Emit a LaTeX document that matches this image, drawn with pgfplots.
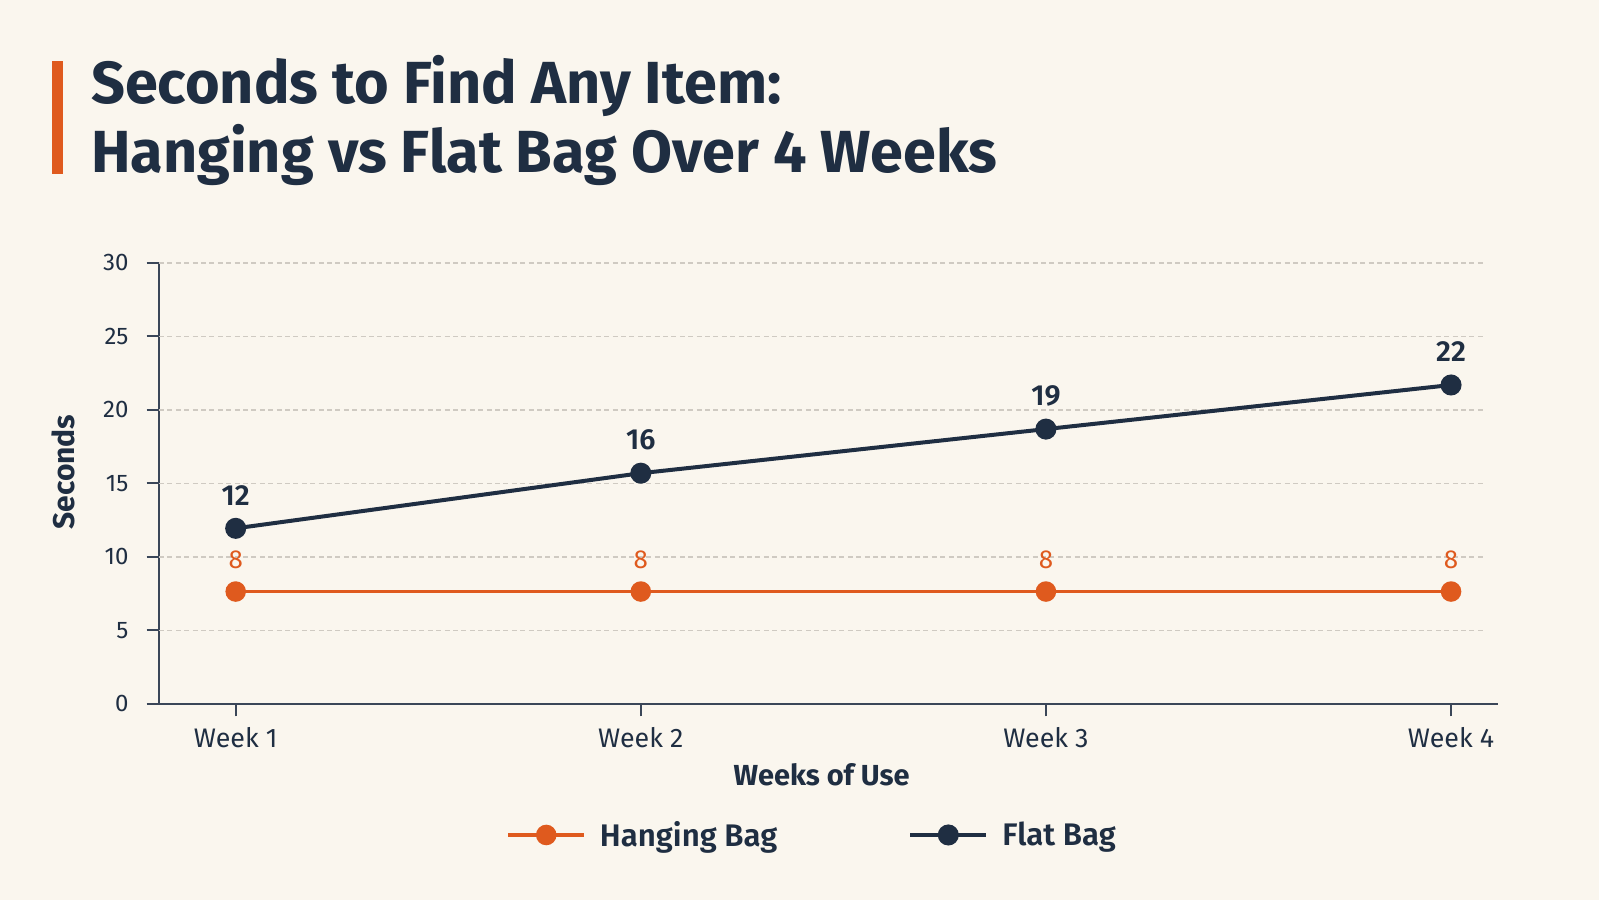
\documentclass[border=0pt]{standalone}
\usepackage{fontspec}
\setmainfont{Fira Sans}
\newfontface\fsemi{Fira Sans SemiBold}
\usepackage{pgfplots}
\pgfplotsset{compat=1.18}
\definecolor{bg}{HTML}{FAF6EE}
\definecolor{navy}{HTML}{1F2E42}
\definecolor{accent}{HTML}{DF5A1E}
\definecolor{gridc}{HTML}{CFCAC2}
\definecolor{spine}{HTML}{3A4658}
\begin{document}
\begin{tikzpicture}[x=0.5bp,y=0.5bp]
\fill[bg] (0,0) rectangle (1599,900);
\fill[accent] (51.7,726) rectangle (62.7,839.3);
\node[anchor=base west, inner sep=0, text=navy, font=\bfseries\fontsize{29.7bp}{29.7bp}\selectfont] at (90.7,796) {Seconds to Find Any Item:};
\node[anchor=base west, inner sep=0, text=navy, font=\bfseries\fontsize{29.7bp}{29.7bp}\selectfont] at (90.7,727) {Hanging vs Flat Bag Over 4 Weeks};
\begin{axis}[
  at={(79.5bp,98bp)}, anchor=south west,
  scale only axis, width=669.5bp, height=220.5bp,
  xmin=0.8107, xmax=4.116, ymin=0, ymax=30,
  axis lines=left, axis line style={spine, line width=1bp, -},
  xtick={1,2,3,4}, xticklabels={Week 1,Week 2,Week 3,Week 4},
  ytick={0,5,10,15,20,25,30},
  tick align=outside, major tick length=6.25bp,
  tick style={spine, line width=1bp},
  /pgf/number format/assume math mode=true,
  yticklabel style={anchor=east, inner sep=0pt, xshift=-8.85bp, text=navy, font=\fontsize{12bp}{12bp}\selectfont},
  xticklabel style={anchor=base, inner sep=0pt, yshift=-15.35bp, text=navy, font=\fontsize{13.4bp}{13.4bp}\selectfont},
  xlabel={Weeks of Use},
  xlabel style={at={(axis description cs:0.4949,-0.1837)}, anchor=base, inner sep=0pt, text=navy, font=\bfseries\fontsize{14.5bp}{14.5bp}\selectfont},
  ylabel={Seconds},
  ylabel style={at={(axis description cs:-0.0717,0.526)}, anchor=center, rotate=0, inner sep=0pt, text=navy, font=\bfseries\fontsize{15bp}{15bp}\selectfont},
  legend style={at={(axis description cs:0.4885,-0.297)}, anchor=center, draw=none, fill=none, text=navy, font=\fsemi\fontsize{15.6bp}{15.6bp}\selectfont, /tikz/every even column/.append style={column sep=63.5bp}},
  legend columns=2,
  legend image code/.code={\draw[mark repeat=2, mark phase=2, #1] plot coordinates {(0bp,0bp) (19bp,0bp) (38bp,0bp)}; \path (43bp,0bp);},
  clip=false,
]
\foreach \yy in {5,10,15,20,25,30} {
  \edef\temp{\noexpand\draw[gridc, line width=0.6bp, dash pattern=on 2.5bp off 1.7bp] (axis cs:0.8107,\yy) -- (axis cs:4.084,\yy);}
  \temp
}
\draw[spine, line width=1bp] (rel axis cs:0,0) -- ([xshift=-6bp]rel axis cs:0,0);
\addplot[accent, line width=1.75bp, mark=*, mark size=4.25bp, mark options={fill=accent, draw=accent, solid},
  nodes near coords, point meta=explicit symbolic,
  every node near coord/.append style={anchor=center, yshift=16bp, text=accent, font=\fontsize{13bp}{13bp}\selectfont}]
  coordinates {(1,7.65)[8] (2,7.65)[8] (3,7.65)[8] (4,7.65)[8]};
\addlegendentry{Hanging Bag}
\addplot[navy, line width=2bp, mark=*, mark size=4.25bp, mark options={fill=navy, draw=navy, solid},
  nodes near coords, point meta=explicit symbolic,
  every node near coord/.append style={anchor=center, yshift=16.5bp, text=navy, font=\fsemi\fontsize{14.5bp}{14.5bp}\selectfont}]
  coordinates {(1,11.95)[12] (2,15.7)[16] (3,18.7)[19] (4,21.7)[22]};
\addlegendentry{Flat Bag}
\end{axis}
\end{tikzpicture}
\end{document}
